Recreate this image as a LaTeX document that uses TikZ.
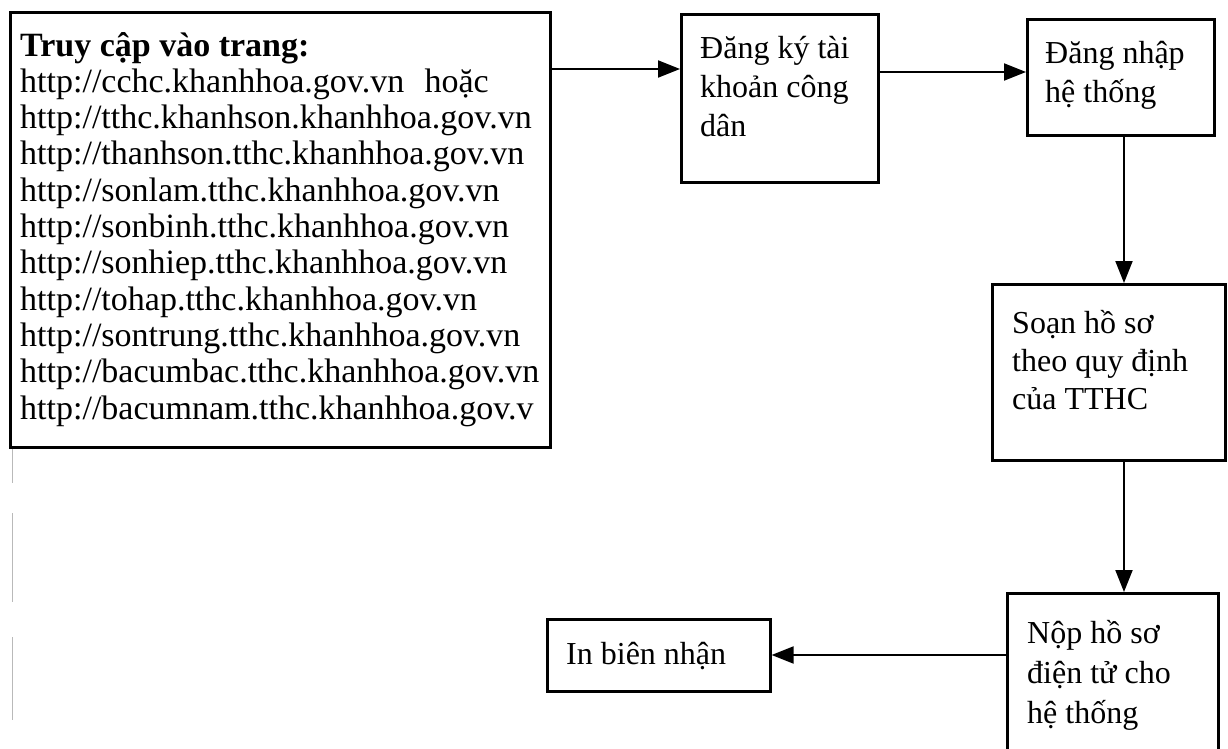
\documentclass[tikz,border=0pt]{standalone}
\usepackage{fontspec}
\setmainfont{Liberation Serif}
\usetikzlibrary{arrows.meta}
\begin{document}
\begin{tikzpicture}[x=1pt,y=-1pt,
  box/.style={draw, line width=2.6pt, inner sep=0pt, anchor=north west},
  link/.style={line width=2pt, -{Triangle[length=22pt,width=17pt]}},
  lbl/.style={anchor=base west, inner sep=0pt},
  scan/.style={draw=gray!55, line width=0.8pt}]
\useasboundingbox (0,0) rectangle (1228,748);
\clip (0,0) rectangle (1228,748);
% boxes
\node[box, minimum width=540pt, minimum height=435pt] (b1) at (9,11) {};
\node[box, minimum width=197pt, minimum height=168pt] (b2) at (680,13) {};
\node[box, minimum width=187pt, minimum height=116pt] (b3) at (1026,18) {};
\node[box, minimum width=233pt, minimum height=176pt] (b4) at (991,283) {};
\node[box, minimum width=211pt, minimum height=200pt] (b5) at (1006,592) {};
\node[box, minimum width=223pt, minimum height=72pt] (b6) at (546,618) {};
% texts
\node[lbl] (t1) at (20,56) {\parbox[t]{527pt}{\raggedright\fontsize{34}{36.3}\selectfont
\textbf{Truy cập vào trang:}\\
http://cchc.khanhhoa.gov.vn\hspace{0.35em} hoặc\\
http://tthc.khanhson.khanhhoa.gov.vn\\
http://thanhson.tthc.khanhhoa.gov.vn\\
http://sonlam.tthc.khanhhoa.gov.vn\\
http://sonbinh.tthc.khanhhoa.gov.vn\\
http://sonhiep.tthc.khanhhoa.gov.vn\\
http://tohap.tthc.khanhhoa.gov.vn\\
http://sontrung.tthc.khanhhoa.gov.vn\\
http://bacumbac.tthc.khanhhoa.gov.vn\\
http://bacumnam.tthc.khanhhoa.gov.v}};
\node[lbl] (t2) at (700,58) {\parbox[t]{180pt}{\raggedright\fontsize{32}{39}\selectfont Đăng ký tài\\ khoản công\\ dân}};
\node[lbl] (t3) at (1045,63) {\parbox[t]{170pt}{\raggedright\fontsize{32}{39}\selectfont Đăng nhập\\ hệ thống}};
\node[lbl] (t4) at (1012,333) {\parbox[t]{210pt}{\raggedright\fontsize{32}{38}\selectfont Soạn hồ sơ\\ theo quy định\\ của TTHC}};
\node[lbl] (t5) at (1027,643) {\parbox[t]{190pt}{\raggedright\fontsize{32}{40}\selectfont Nộp hồ sơ\\ điện tử cho\\ hệ thống}};
\node[lbl] (t6) at (566,664) {\fontsize{32}{38}\selectfont In biên nhận};
% connectors
\coordinate (ya) at (0,69);
\coordinate (yb) at (0,72);
\coordinate (xc) at (1124,0);
\coordinate (yd) at (0,655);
\draw[link] (b1.east |- ya) -- (b2.west |- ya);
\draw[link] (b2.east |- yb) -- (b3.west |- yb);
\draw[link] (b3.south -| xc) -- (b4.north -| xc);
\draw[link] (b4.south -| xc) -- (b5.north -| xc);
\draw[link] (b5.west |- yd) -- (b6.east |- yd);
% faint scan marks at left margin
\path[scan] (12,449) -- (12,483);
\path[scan] (12,513) -- (12,602);
\path[scan] (12,637) -- (12,720);
\end{tikzpicture}
\end{document}
